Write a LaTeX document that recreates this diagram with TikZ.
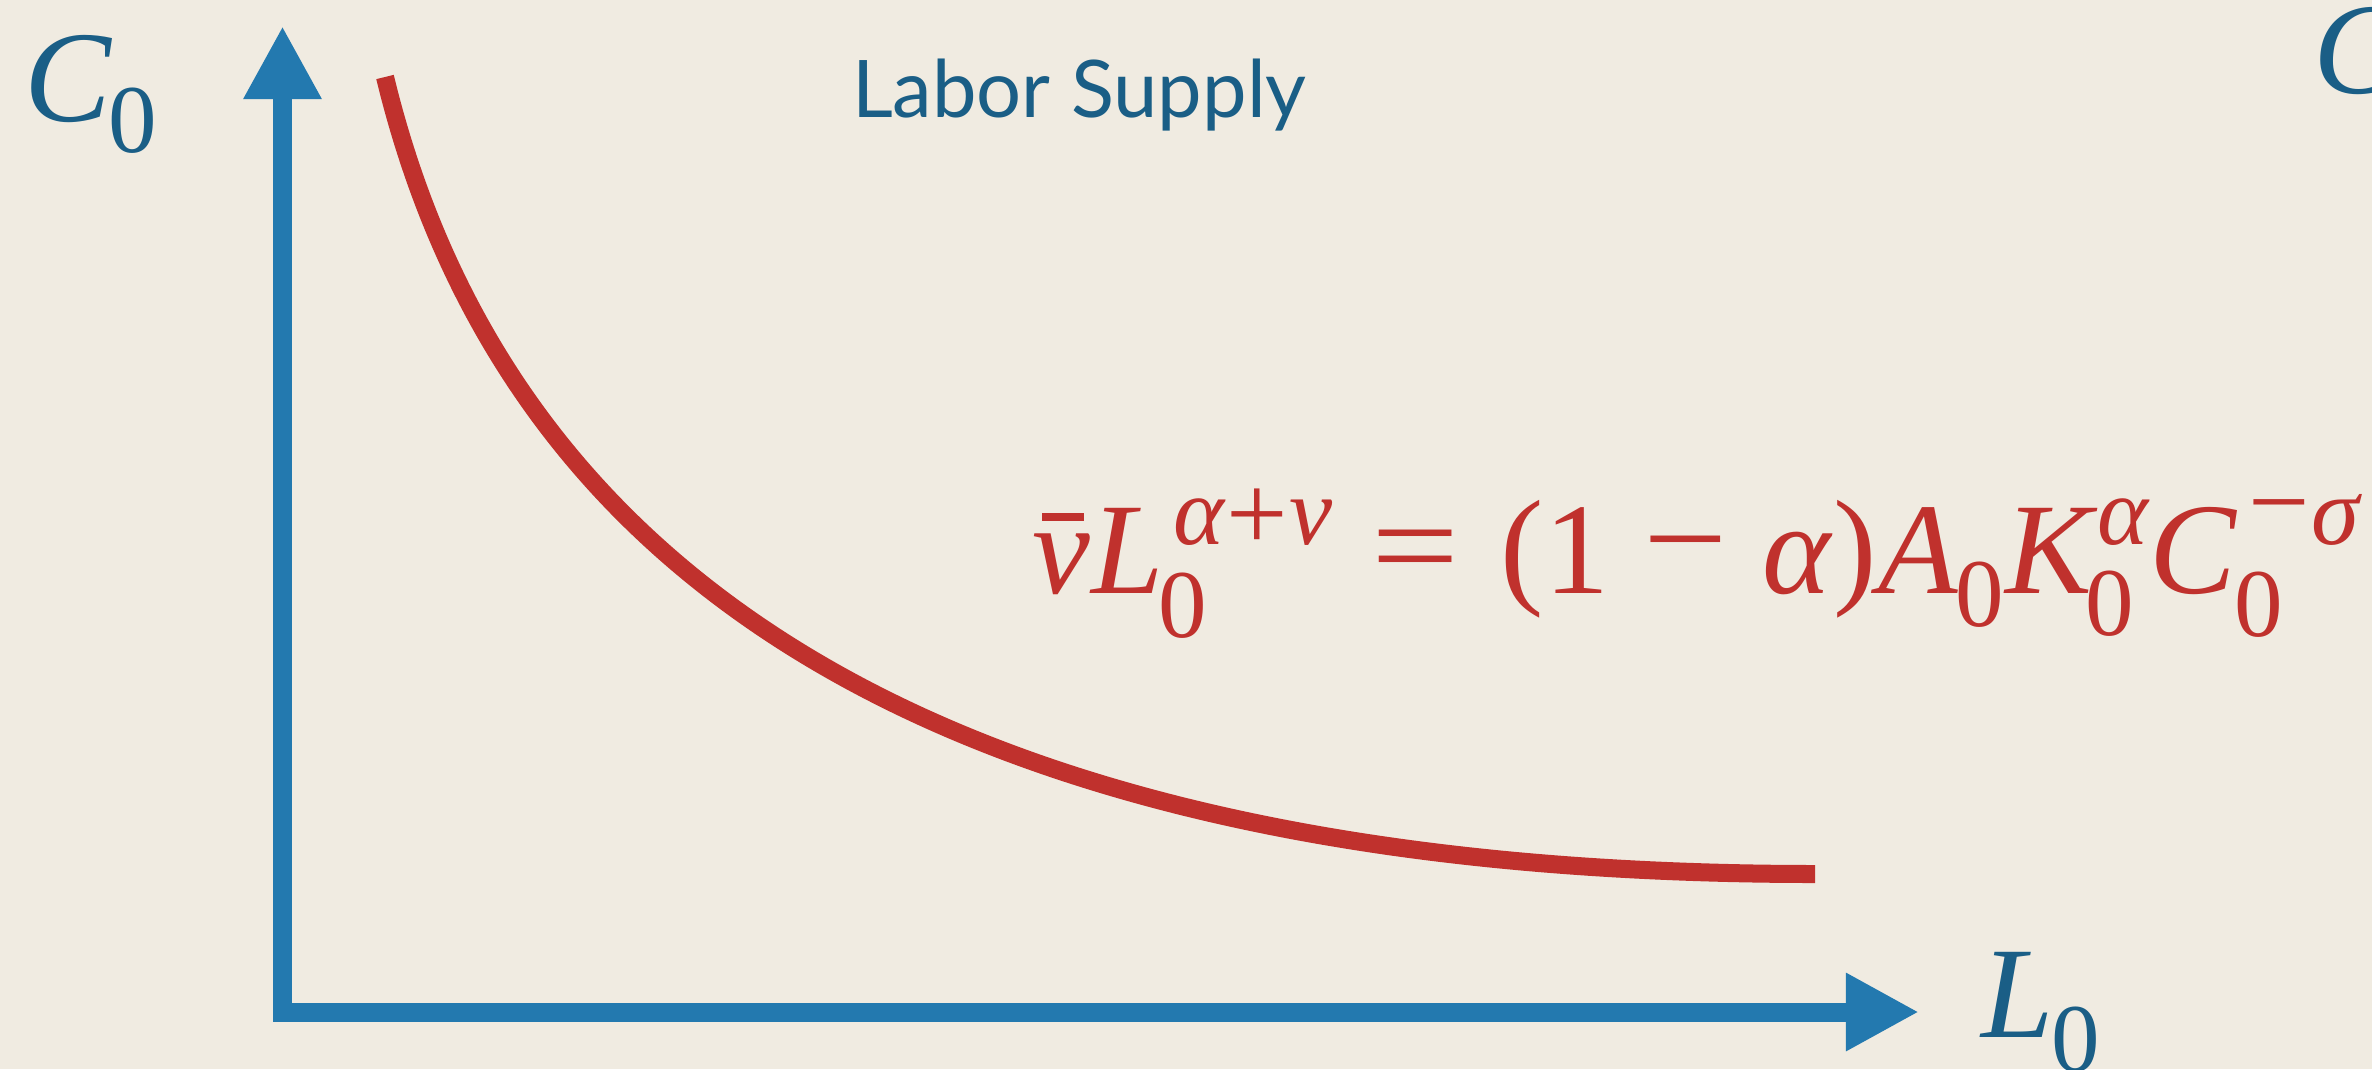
\documentclass[tikz,border=0pt]{standalone}
\usepackage{fontspec}
\setmainfont{Liberation Serif}
\newfontfamily\titlefont{Lato}
\usetikzlibrary{arrows.meta}
\definecolor{bg}{RGB}{240,235,225}
\definecolor{axisblue}{RGB}{35,121,175}
\definecolor{labelblue}{RGB}{26,94,134}
\definecolor{eqred}{RGB}{192,49,45}
\newcommand{\bigf}{\fontsize{37pt}{40pt}\selectfont}
\newcommand{\smallf}{\fontsize{27.6pt}{30pt}\selectfont}
\newcommand{\opf}{\fontsize{31pt}{34pt}\selectfont}
\begin{document}
\begin{tikzpicture}[x=0.01cm,y=-0.01cm,
  glyph/.style={inner sep=0pt, outer sep=0pt, anchor=base west},
  eqbig/.style={glyph, text=eqred, font=\bigf\itshape},
  equp/.style={glyph, text=eqred, font=\bigf, anchor=center},
  eqsub/.style={glyph, text=eqred, font=\smallf, anchor=center},
  eqsup/.style={glyph, text=eqred, font=\smallf\itshape},
  eqop/.style={glyph, text=eqred, font=\opf, anchor=center},
  labbig/.style={glyph, text=labelblue, font=\bigf\itshape},
  labsub/.style={glyph, text=labelblue, font=\smallf, anchor=center},
  axis/.style={draw=axisblue, line width=0.19cm, -{Triangle[length=0.73cm,width=0.73cm]}},
  curve/.style={draw=eqred, line width=0.18cm, line cap=butt}]
\fill[bg] (0,0) rectangle (2372,1069);
\useasboundingbox (0,0) rectangle (2372,1069);

% axes
\coordinate (ybot) at (282.5,1021.5);
\coordinate (ytop) at (282.5,26);
\coordinate (xleft) at (273,1012);
\coordinate (xright) at (1919,1012);
\draw[axis] (ybot) -- (ytop);
\draw[axis] (xleft) -- (xright);

% curve
\coordinate (cstart) at (385,77);
\coordinate (cend) at (1815,874);
\draw[curve] (cstart) .. controls (490,510) and (850,874) .. (cend);

% title
\node[glyph, text=labelblue, font=\titlefont\fontsize{22.6pt}{26pt}\selectfont] (title) at (852,117) {Labor Supply};

% axis labels
\node[labbig] (C) at (24.4,121) {C};
\node[labsub] (Csub) at (132.5,120.5) {0};
\node[labbig] (L) at (1981,1037) {L};
\node[labsub] (Lsub) at (2075.5,1039.5) {0};
\node[labbig] (Cright) at (2313.4,93) {C};

% equation
\node[eqbig] (nu) at (1032,593) {ν};
\fill[eqred] (1042,513) rectangle (1084,521);
\node[eqbig] (eL) at (1091,593) {L};
\node[eqsub] (eLsub) at (1182.5,605.5) {0};
\node[eqsup] (eLa) at (1173,544) {α};
\node[eqop] (eLplus) at (1257.5,520) {+};
\node[eqsup] (eLnu) at (1289,544) {ν};
\node[equp] (eq) at (1416,559.5) {\scalebox{1.2}[1]{=}};
\node[equp] (lp) at (1522,559.5) {(};
\node[glyph, text=eqred, font=\bigf, anchor=base] (one) at (1577.5,593) {1};
\node[equp] (minus) at (1685.5,559.5) {\scalebox{1.15}[1]{−}};
\node[eqbig] (alpha) at (1762,593) {α};
\node[equp] (rp) at (1855,559.5) {)};
\node[eqbig] (A) at (1878.6,593) {A};
\node[eqsub] (Asub) at (1980,595) {0};
\node[eqbig] (K) at (2005,593) {K};
\node[eqsup] (Ka) at (2097,544) {α};
\node[eqsub] (Ksub) at (2110,604) {0};
\node[eqbig] (eC) at (2149.4,593) {C};
\node[eqop] (Cminus) at (2279.5,519) {−};
\node[eqsup] (Csig) at (2311,544) {σ};
\node[eqsub] (eCsub) at (2259,604.5) {0};
\end{tikzpicture}
\end{document}
